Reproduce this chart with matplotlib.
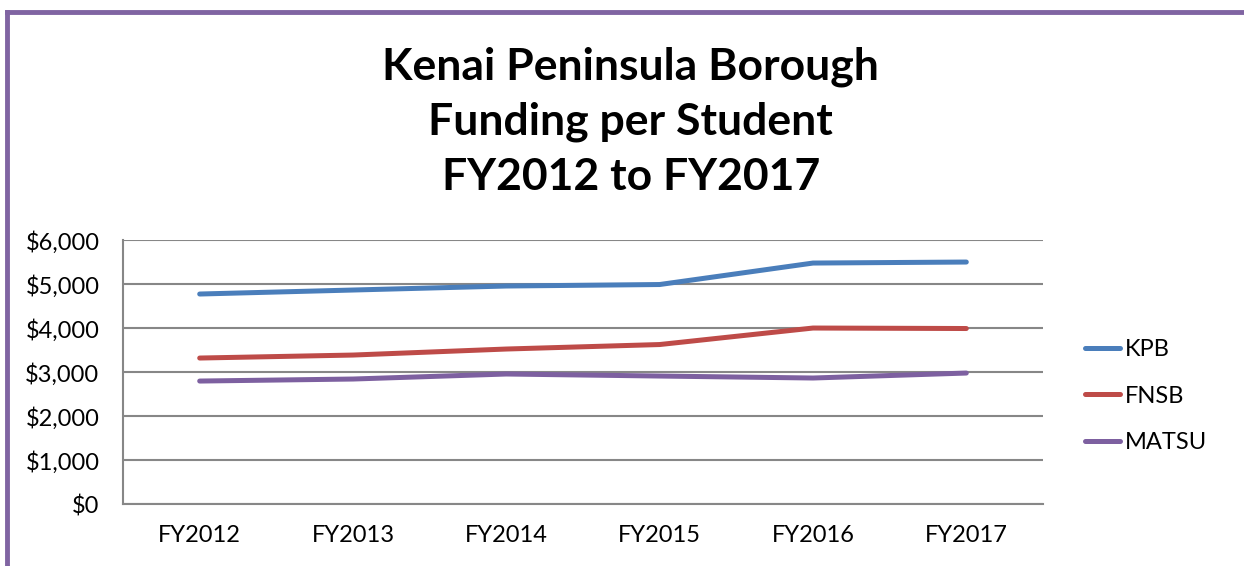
import matplotlib.pyplot as plt
from matplotlib.lines import Line2D
from matplotlib.ticker import FuncFormatter

plt.rcParams['font.family'] = ['Lato', 'DejaVu Sans']

years = ['FY2012', 'FY2013', 'FY2014', 'FY2015', 'FY2016', 'FY2017']
kpb = [4773, 4864, 4955, 4989, 5477, 5500]
fnsb = [3318, 3386, 3523, 3625, 4000, 3989]
matsu = [2795, 2841, 2955, 2909, 2864, 2977]

colors = {'KPB': '#4A7EBB', 'FNSB': '#BE4B48', 'MATSU': '#7D60A0'}

fig = plt.figure(figsize=(12.44, 5.66), dpi=100)
ax = fig.add_axes([0.0989, 0.1095, 0.7395, 0.4664])

x = range(len(years))
for name, vals in [('KPB', kpb), ('FNSB', fnsb), ('MATSU', matsu)]:
    ax.plot(x, vals, color=colors[name], lw=3.6, solid_capstyle='round',
            solid_joinstyle='round', label=name)

ax.set_xlim(-0.5, len(years) - 0.5)
ax.set_ylim(0, 6000)
ax.set_yticks(range(0, 6001, 1000))
ax.yaxis.set_major_formatter(FuncFormatter(lambda v, p: '${:,.0f}'.format(v)))
ax.set_xticks(list(x))
ax.set_xticklabels(years)
ax.grid(axis='y', color='#878787', lw=1.5)
ax.set_axisbelow(True)
for s in ['top', 'right']:
    ax.spines[s].set_visible(False)
for s in ['left', 'bottom']:
    ax.spines[s].set_color('#878787')
    ax.spines[s].set_linewidth(1.5)
ax.tick_params(length=0, labelsize=17, colors='black')
ax.tick_params(axis='y', pad=17)
ax.tick_params(axis='x', pad=15)

# legend
handles = [Line2D([0], [0], color=colors[n], lw=3.6, solid_capstyle='round') for n in ['KPB', 'FNSB', 'MATSU']]
fig.legend(handles, ['KPB', 'FNSB', 'MATSU'], loc='center left', bbox_to_anchor=(0.855, 0.3),
           frameon=False, fontsize=17, handlelength=1.5, handletextpad=0.2, labelspacing=1.08)

fig.text(0.507, 0.785, 'Kenai Peninsula Borough\nFunding per Student\nFY2012 to FY2017',
         ha='center', va='center', fontsize=32, fontweight='bold', linespacing=1.45)

# purple border on the left and top
fig.add_artist(Line2D([0.0056, 0.0056], [0, 0.978], color='#8064A2', lw=3.5, transform=fig.transFigure))
fig.add_artist(Line2D([0.0056, 1], [0.978, 0.978], color='#8064A2', lw=3.5, transform=fig.transFigure))

plt.savefig('out.png', dpi=100)
